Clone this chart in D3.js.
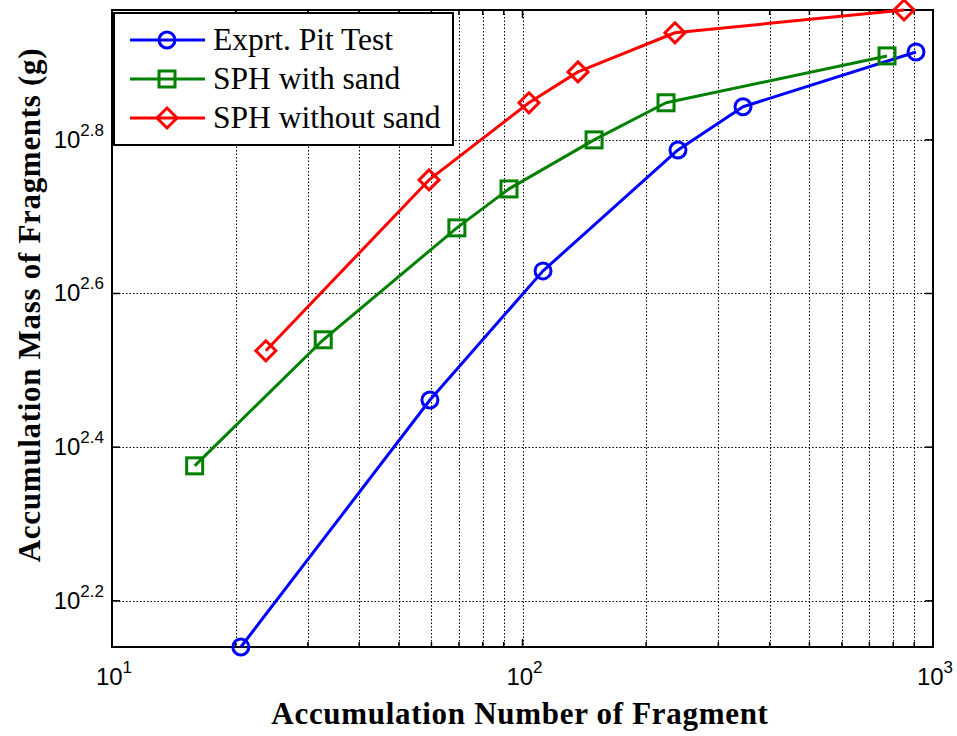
<!DOCTYPE html>
<html>
<head>
<meta charset="utf-8">
<script src="https://cdn.jsdelivr.net/npm/d3@7"></script>
<style>
  html, body { margin: 0; padding: 0; background: #fff; }
  svg { display: block; }
</style>
</head>
<body>
<svg id="chart" width="957" height="736"></svg>
<script>
// ---- data ----
const seriesNames = ["Exprt. Pit Test", "SPH with sand", "SPH without sand"];
const seriesColors = ["#0000ff", "#008000", "#ff0000"];
const seriesMarkers = ["circle", "square", "diamond"];

const pitX = [20.6, 59.5, 112.2, 239.2, 344.5, 909];
const pitY = [138, 289.3, 426, 612, 696.7, 821];

const withSandX = [15.9, 32.7, 69.2, 92.7, 149.4, 223.7, 772.7];
const withSandY = [237.5, 346.5, 484.6, 544.6, 630.8, 705, 811.3];

const withoutSandX = [23.7, 59.2, 103.7, 136.5, 235.2, 850];
const withoutSandY = [335.3, 559.5, 705, 773.4, 869.6, 931];

const xTickValues = [10, 100, 1000];
const xTickExponents = ["1", "2", "3"];
const xMinorGrid = [20, 30, 40, 50, 60, 70, 80, 90, 200, 300, 400, 500, 600, 700, 800, 900];
const yTickExponents = ["2.2", "2.4", "2.6", "2.8"];
const yTickValues = yTickExponents.map(e => Math.pow(10, +e));
const xDomain = [10, 1000];
const yDomain = [138, 931];

const xTitle = "Accumulation Number of Fragment";
const yTitle = "Accumulation Mass of Fragments (g)";

// ---- layout ----
const L = 112, R = 933, T = 10, B = 647;
const svg = d3.select("#chart");
const x = d3.scaleLog().domain(xDomain).range([L, R]);
const y = d3.scaleLog().domain(yDomain).range([B, T]);

// grid
const grid = svg.append("g").attr("stroke", "#000").attr("stroke-width", 1)
  .attr("stroke-dasharray", "1.5,2").attr("fill", "none");
const xGridVals = xMinorGrid.concat([100]);
grid.selectAll(".gx").data(xGridVals).join("line")
  .attr("x1", d => Math.round(x(d)) + 0.5).attr("x2", d => Math.round(x(d)) + 0.5)
  .attr("y1", T).attr("y2", B);
grid.selectAll(".gy").data(yTickValues).join("line")
  .attr("y1", d => Math.round(y(d)) + 0.5).attr("y2", d => Math.round(y(d)) + 0.5)
  .attr("x1", L).attr("x2", R);

// ticks inward
const ticks = svg.append("g").attr("stroke", "#000").attr("stroke-width", 1.5);
ticks.selectAll(".tb").data(xGridVals).join("line")
  .attr("x1", d => x(d)).attr("x2", d => x(d)).attr("y1", B).attr("y2", d => B - (xTickValues.includes(d) ? 8 : 5));
ticks.selectAll(".tt").data(xGridVals).join("line")
  .attr("x1", d => x(d)).attr("x2", d => x(d)).attr("y1", T).attr("y2", d => T + (xTickValues.includes(d) ? 8 : 5));
ticks.selectAll(".tl").data(yTickValues).join("line")
  .attr("y1", d => y(d)).attr("y2", d => y(d)).attr("x1", L).attr("x2", L + 8);
ticks.selectAll(".tr").data(yTickValues).join("line")
  .attr("y1", d => y(d)).attr("y2", d => y(d)).attr("x1", R).attr("x2", R - 8);

// axes box
svg.append("rect").attr("x", L).attr("y", T).attr("width", R - L).attr("height", B - T)
  .attr("fill", "none").attr("stroke", "#000").attr("stroke-width", 2);

// tick labels
const xl = svg.append("g").attr("font-family", "Liberation Sans, Arial, sans-serif");
xTickValues.forEach((v, i) => {
  const t = xl.append("text").attr("x", x(v) + 2).attr("y", 685).attr("text-anchor", "middle")
    .attr("font-size", 24).attr("fill", "#000");
  t.append("tspan").text("10");
  t.append("tspan").attr("font-size", 17).attr("dy", -12).text(xTickExponents[i]);
});
yTickValues.forEach((v, i) => {
  const t = xl.append("text").attr("x", 104).attr("y", y(v) + 8).attr("text-anchor", "end")
    .attr("font-size", 24).attr("fill", "#000");
  t.append("tspan").text("10");
  t.append("tspan").attr("font-size", 17).attr("dy", -12).text(yTickExponents[i]);
});

// axis titles
svg.append("text").attr("x", 520).attr("y", 724).attr("text-anchor", "middle")
  .attr("font-family", "Liberation Serif, Times New Roman, serif").attr("font-weight", "bold")
  .attr("font-size", 31).attr("letter-spacing", 0.7).text(xTitle);
svg.append("text").attr("transform", "translate(40,305) rotate(-90)").attr("text-anchor", "middle")
  .attr("font-family", "Liberation Serif, Times New Roman, serif").attr("font-weight", "bold")
  .attr("font-size", 31).attr("letter-spacing", 0.7).text(yTitle);

// markers
function drawMarker(g, type, cx, cy, color) {
  if (type === "circle") {
    g.append("circle").attr("cx", cx).attr("cy", cy).attr("r", 8)
      .attr("fill", "none").attr("stroke", color).attr("stroke-width", 3);
  } else if (type === "square") {
    g.append("rect").attr("x", cx - 8).attr("y", cy - 8).attr("width", 16).attr("height", 16)
      .attr("fill", "none").attr("stroke", color).attr("stroke-width", 3);
  } else {
    const s = 10;
    g.append("path").attr("d", `M${cx},${cy - s}L${cx + s},${cy}L${cx},${cy + s}L${cx - s},${cy}Z`)
      .attr("fill", "none").attr("stroke", color).attr("stroke-width", 3);
  }
}

const allSeries = [[pitX, pitY], [withSandX, withSandY], [withoutSandX, withoutSandY]];
const line = d3.line().x(d => x(d[0])).y(d => y(d[1]));
allSeries.forEach(([xs, ys], i) => {
  const pts = xs.map((v, j) => [v, ys[j]]);
  const g = svg.append("g");
  g.append("path").attr("d", line(pts)).attr("fill", "none")
    .attr("stroke", seriesColors[i]).attr("stroke-width", 3).attr("stroke-linejoin", "round");
  pts.forEach(p => drawMarker(g, seriesMarkers[i], x(p[0]), y(p[1]), seriesColors[i]));
});

// legend
const lg = svg.append("g");
lg.append("rect").attr("x", 114).attr("y", 13).attr("width", 339).attr("height", 132)
  .attr("fill", "#fff").attr("stroke", "#000").attr("stroke-width", 2);
seriesNames.forEach((name, i) => {
  const cy = 40 + i * 39;
  lg.append("line").attr("x1", 130).attr("x2", 205).attr("y1", cy).attr("y2", cy)
    .attr("stroke", seriesColors[i]).attr("stroke-width", 3);
  drawMarker(lg, seriesMarkers[i], 167, cy, seriesColors[i]);
  lg.append("text").attr("x", 213).attr("y", cy + 10)
    .attr("font-family", "Liberation Serif, Times New Roman, serif").attr("font-size", 31.5)
    .text(name);
});
</script>
</body>
</html>
